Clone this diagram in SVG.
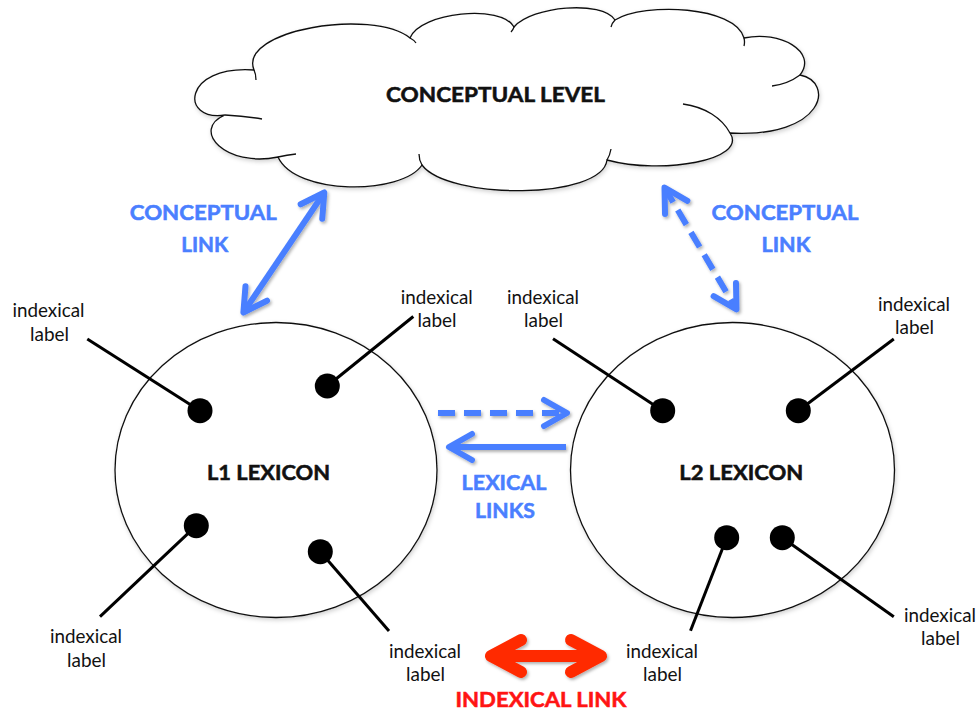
<svg xmlns="http://www.w3.org/2000/svg" width="979" height="713" viewBox="0 0 979 713">
<style>
.lbl{font-family:Lato,"Liberation Sans",sans-serif;font-size:19px;fill:#111;text-anchor:middle}
.bold{font-family:Lato,"Liberation Sans",sans-serif;font-weight:bold;text-anchor:middle;stroke-width:0.55}
.blue{fill:#4a7fff;stroke:#4a7fff;font-size:21px}
.blk{fill:#111;stroke:#111;font-size:21px}
.red{fill:#ff1414;stroke:#ff1414;font-size:21px}
.shape{fill:#fff;stroke:#111;stroke-width:1.3}
.pin{stroke:#000;stroke-width:3;fill:none}
.dot{fill:#000}
.ba{stroke:#4a7fff;stroke-width:6;fill:none}
.dash{stroke-dasharray:17 9}
.ra{stroke:#ff2a00;stroke-width:12;fill:none}
</style>
<defs>
<filter id="sh" filterUnits="userSpaceOnUse" x="0" y="0" width="979" height="713">
<feDropShadow dx="1.5" dy="2" stdDeviation="1.5" flood-color="#000" flood-opacity="0.3"/>
</filter>
<filter id="shs" filterUnits="userSpaceOnUse" x="0" y="0" width="979" height="713">
<feDropShadow dx="1" dy="2" stdDeviation="2" flood-color="#000" flood-opacity="0.18"/>
</filter>
<marker id="hb" markerUnits="userSpaceOnUse" orient="auto-start-reverse" refX="0" refY="0" markerWidth="40" markerHeight="40" overflow="visible">
<path d="M -23,-13 L 0,0 L -23,13" fill="none" stroke="#4a7fff" stroke-width="6" stroke-linecap="round" stroke-linejoin="round"/>
</marker>
<marker id="hr" markerUnits="userSpaceOnUse" orient="auto-start-reverse" refX="0" refY="0" markerWidth="60" markerHeight="60" overflow="visible">
<path d="M -30,-16 L 0,0 L -30,16" fill="none" stroke="#ff2a00" stroke-width="12" stroke-linecap="round" stroke-linejoin="round"/>
</marker>
</defs>

<g id="cloud">
<path class="shape" filter="url(#shs)" d="M 225,115 C 180,122 182,65 254,70 C 238,30 372,8 410,38 C 420,12 502,4 514,27 C 532,6 602,0 615,20 C 645,2 735,6 744,38 C 780,30 818,52 800,75 C 835,82 825,138 730,133 C 748,160 662,175 607,160 C 602,200 448,200 422,165 C 402,195 296,196 278,157 C 226,168 190,130 225,115 Z"/>
<path fill="none" stroke="#111" stroke-width="1.3" d="M 225,115 Q 245,116 262,119 M 278,157 Q 287,155 296,154 M 422,165 Q 419,160 419,154 M 607,160 Q 610,155 611,149 M 730,133 C 722,118 705,107 683,104 M 800,75 Q 788,84 772,86 M 744,38 Q 745,42 744,46 M 615,20 Q 612,23 611,27 M 514,27 Q 513,30 511,32 M 410,38 Q 414,40 416,43 M 254,70 Q 256,74 256,80"/>
<text class="bold blk" x="495.5" y="102" font-size="22" textLength="219" lengthAdjust="spacingAndGlyphs">CONCEPTUAL LEVEL</text>
</g>

<g id="l1">
<ellipse class="shape" filter="url(#shs)" cx="276" cy="470" rx="161" ry="147.5"/>
<text class="bold blk" x="268.5" y="479.5" font-size="20" textLength="123" lengthAdjust="spacingAndGlyphs">L1 LEXICON</text>
</g>
<g id="l2">
<ellipse class="shape" filter="url(#shs)" cx="732.5" cy="470" rx="162" ry="147.5"/>
<text class="bold blk" x="741.3" y="479.5" font-size="20" textLength="124" lengthAdjust="spacingAndGlyphs">L2 LEXICON</text>
</g>

<g id="connectors">
<line class="pin" x1="87.3" y1="339" x2="200" y2="410.7"/>
<line class="pin" x1="413.3" y1="316.5" x2="327.3" y2="386"/>
<line class="pin" x1="100" y1="616.7" x2="196.3" y2="525.7"/>
<line class="pin" x1="389" y1="631" x2="320.3" y2="551.7"/>
<line class="pin" x1="553" y1="338.7" x2="662.7" y2="410.7"/>
<line class="pin" x1="893.8" y1="339" x2="798.3" y2="410.7"/>
<line class="pin" x1="690.5" y1="630.8" x2="726.7" y2="537.7"/>
<line class="pin" x1="893.8" y1="616.7" x2="782.3" y2="537.7"/>
<g filter="url(#sh)">
<line class="ba" x1="243.4" y1="312.5" x2="324.3" y2="192.5" marker-start="url(#hb)" marker-end="url(#hb)"/>
<line class="ba dash" x1="664.5" y1="187.6" x2="736.5" y2="309.4" marker-start="url(#hb)" marker-end="url(#hb)"/>
<line class="ba dash" x1="438" y1="413" x2="567" y2="413" marker-end="url(#hb)"/>
<line class="ba" x1="566" y1="447" x2="449" y2="447" marker-end="url(#hb)"/>
<line class="ra" x1="491" y1="656" x2="601" y2="656" marker-start="url(#hr)" marker-end="url(#hr)"/>
</g>
</g>

<g id="dots">
<circle class="dot" cx="200" cy="410.7" r="12.5"/>
<circle class="dot" cx="327.3" cy="386" r="12.5"/>
<circle class="dot" cx="196.3" cy="525.7" r="12.5"/>
<circle class="dot" cx="320.3" cy="551.7" r="12.5"/>
<circle class="dot" cx="662.7" cy="410.7" r="12.5"/>
<circle class="dot" cx="798.3" cy="410.7" r="12.5"/>
<circle class="dot" cx="726.7" cy="537.7" r="12.5"/>
<circle class="dot" cx="782.3" cy="537.7" r="12.5"/>
</g>

<g id="conceptual-link-left">
<text class="bold blue" x="203.3" y="220" textLength="147" lengthAdjust="spacingAndGlyphs">CONCEPTUAL</text>
<text class="bold blue" x="204.7" y="251.7" textLength="47" lengthAdjust="spacingAndGlyphs">LINK</text>
</g>
<g id="conceptual-link-right">
<text class="bold blue" x="785" y="220" textLength="147" lengthAdjust="spacingAndGlyphs">CONCEPTUAL</text>
<text class="bold blue" x="786" y="251.7" textLength="49" lengthAdjust="spacingAndGlyphs">LINK</text>
</g>
<g id="lexical-links">
<text class="bold blue" x="504" y="490" textLength="85" lengthAdjust="spacingAndGlyphs">LEXICAL</text>
<text class="bold blue" x="505" y="518.3" textLength="60" lengthAdjust="spacingAndGlyphs">LINKS</text>
</g>
<g id="indexical-link">
<text class="bold red" x="541" y="706.7" textLength="171" lengthAdjust="spacingAndGlyphs">INDEXICAL LINK</text>
</g>

<g id="label-1"><text class="lbl" x="48.5" y="317" textLength="72" lengthAdjust="spacingAndGlyphs">indexical</text><text class="lbl" x="49.5" y="340.5" textLength="39" lengthAdjust="spacingAndGlyphs">label</text></g>
<g id="label-2"><text class="lbl" x="436.7" y="304.3" textLength="72" lengthAdjust="spacingAndGlyphs">indexical</text><text class="lbl" x="437" y="327" textLength="39" lengthAdjust="spacingAndGlyphs">label</text></g>
<g id="label-3"><text class="lbl" x="543" y="304.3" textLength="72" lengthAdjust="spacingAndGlyphs">indexical</text><text class="lbl" x="543.5" y="327" textLength="39" lengthAdjust="spacingAndGlyphs">label</text></g>
<g id="label-4"><text class="lbl" x="914" y="310.7" textLength="72" lengthAdjust="spacingAndGlyphs">indexical</text><text class="lbl" x="914.5" y="334" textLength="39" lengthAdjust="spacingAndGlyphs">label</text></g>
<g id="label-5"><text class="lbl" x="86" y="643.3" textLength="72" lengthAdjust="spacingAndGlyphs">indexical</text><text class="lbl" x="86.5" y="666.7" textLength="39" lengthAdjust="spacingAndGlyphs">label</text></g>
<g id="label-6"><text class="lbl" x="425" y="658.3" textLength="72" lengthAdjust="spacingAndGlyphs">indexical</text><text class="lbl" x="425.5" y="681" textLength="39" lengthAdjust="spacingAndGlyphs">label</text></g>
<g id="label-7"><text class="lbl" x="662" y="658.3" textLength="72" lengthAdjust="spacingAndGlyphs">indexical</text><text class="lbl" x="662.5" y="681" textLength="39" lengthAdjust="spacingAndGlyphs">label</text></g>
<g id="label-8"><text class="lbl" x="940" y="622.3" textLength="72" lengthAdjust="spacingAndGlyphs">indexical</text><text class="lbl" x="940.5" y="645" textLength="39" lengthAdjust="spacingAndGlyphs">label</text></g>
</svg>
